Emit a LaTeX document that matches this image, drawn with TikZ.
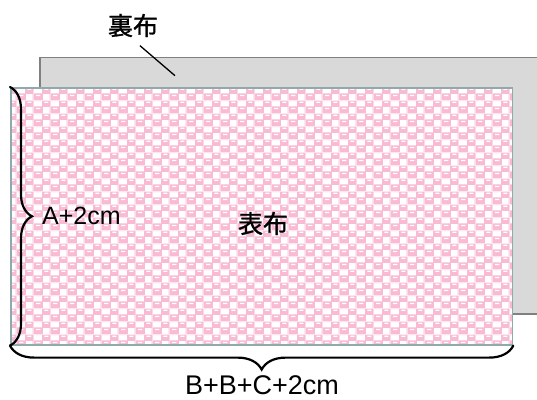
\documentclass[tikz,border=0pt]{standalone}
\usepackage{fontspec}
\setmainfont{Liberation Sans}
\newfontfamily\jpfont[FakeBold=1.2]{Noto Sans CJK JP}
\usepackage{tikz}
\usetikzlibrary{positioning}
\usetikzlibrary{patterns,decorations.pathreplacing}
\definecolor{clothpink}{RGB}{249,186,212}
\definecolor{backgray}{RGB}{217,217,217}
\definecolor{backedge}{RGB}{128,128,128}
\definecolor{frontedge}{RGB}{143,170,170}
\pgfdeclarepatterninherentlycolored{coins}{\pgfpointorigin}{\pgfpoint{16.6pt}{13.2pt}}{\pgfpoint{16.6pt}{13.2pt}}{%
	\pgfsetfillcolor{white}
	\pgfpathrectangle{\pgfpointorigin}{\pgfpoint{16.6pt}{13.2pt}}
	\pgfusepath{fill}
	\pgfsetfillcolor{clothpink}
	\pgfpathrectangle{\pgfpoint{0pt}{0pt}}{\pgfpoint{9pt}{7.1pt}}
	\pgfpathrectangle{\pgfpoint{8.3pt}{6.6pt}}{\pgfpoint{8.3pt}{6.6pt}}
	\pgfpathrectangle{\pgfpoint{0pt}{12.6pt}}{\pgfpoint{9pt}{0.6pt}}
	\pgfpathrectangle{\pgfpoint{16pt}{0pt}}{\pgfpoint{0.6pt}{7.1pt}}
	\pgfusepath{fill}
	\pgfsetfillcolor{white}
	\pgfpathrectangle{\pgfpoint{2.2pt}{4.1pt}}{\pgfpoint{4.2pt}{1.2pt}}
	\pgfpathrectangle{\pgfpoint{10.5pt}{10.7pt}}{\pgfpoint{4.2pt}{1.2pt}}
	\pgfusepath{fill}
}
\tikzset{
	backcloth/.style={draw=backedge,line width=1.6pt,fill=backgray,inner sep=0pt},
	frontcloth/.style={draw=frontedge,line width=1.6pt,preaction={fill=white},pattern=coins,inner sep=0pt},
	jplabel/.style={font=\jpfont\fontsize{25}{30}\selectfont,inner sep=0pt},
	measure/.style={decorate,line width=2.2pt,line cap=round}
}

\begin{document}
\begin{tikzpicture}[x=1pt,y=-1pt]
	\useasboundingbox (0,0) rectangle (537,399);

	\node[backcloth,minimum width=506pt,minimum height=256.5pt,anchor=north west] (ura) at (39,56.5) {};
	\node[frontcloth,minimum width=501.7pt,minimum height=257pt,anchor=north west] (omote) at (10,87) {};

	\node[jplabel] (uralabel) at (133,25.5) {裏布};
	\node[jplabel] (omotelabel) at (263,223.5) {表布};
	\coordinate (leadstart) at (140,45.7);
	\coordinate (leadend) at (175,75.7);
	\draw[line width=1.3pt] (leadstart) -- (leadend);

	% braces
	\draw[measure,decoration={brace,amplitude=22pt}] (omote.north west) -- (omote.south west);
	\draw[measure,decoration={brace,amplitude=24pt}] (omote.south east) -- (omote.south west);
	\node[font=\fontsize{25}{30}\selectfont,inner sep=0pt,anchor=base west] (alen) at (42,224) {A+2cm};
	\node[font=\fontsize{27}{32}\selectfont,inner sep=0pt,anchor=base] (blen) at (262,394) {B+B+C+2cm};
\end{tikzpicture}
\end{document}
